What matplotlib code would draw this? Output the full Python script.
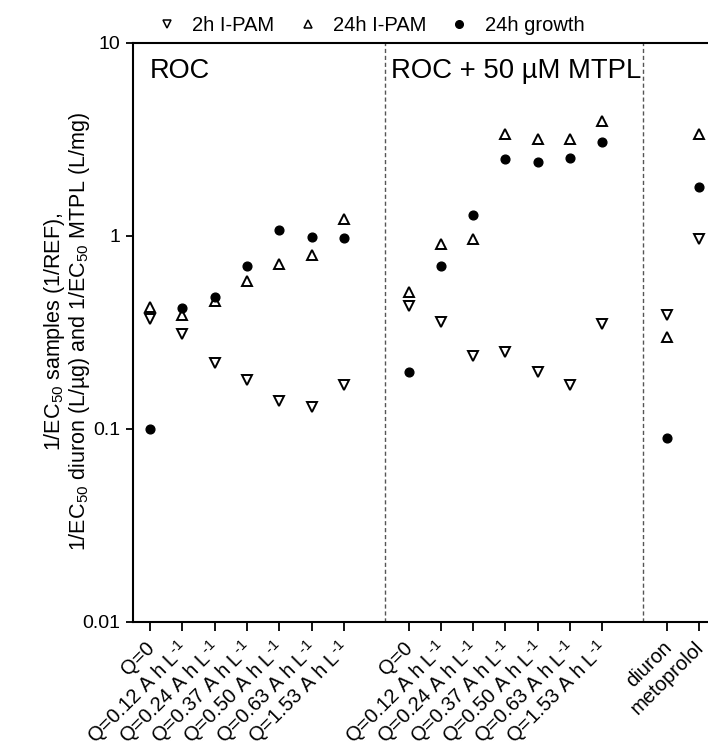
import matplotlib
matplotlib.use("Agg")
import matplotlib.pyplot as plt
from matplotlib.lines import Line2D

plt.rcParams['font.family'] = ['Liberation Sans', 'DejaVu Sans']
plt.rcParams['mathtext.fontset'] = 'custom'
plt.rcParams['mathtext.rm'] = 'Liberation Sans'
plt.rcParams['mathtext.it'] = 'Liberation Sans:italic'

# Sample labels (ROC series, ROC + MTPL series, reference compounds)
charge_labels = ["Q=0", r"Q=0.12 A h L$^{\text{-}1}$", r"Q=0.24 A h L$^{\text{-}1}$",
                 r"Q=0.37 A h L$^{\text{-}1}$", r"Q=0.50 A h L$^{\text{-}1}$",
                 r"Q=0.63 A h L$^{\text{-}1}$", r"Q=1.53 A h L$^{\text{-}1}$"]
reference_labels = ["diuron", "metoprolol"]

# 1/EC50 values, ROC
roc_2h_pam = [0.37, 0.31, 0.22, 0.18, 0.139, 0.13, 0.17]
roc_24h_pam = [0.43, 0.39, 0.46, 0.585, 0.72, 0.80, 1.22]
roc_24h_growth = [0.10, 0.425, 0.485, 0.70, 1.07, 0.99, 0.98]

# 1/EC50 values, ROC + 50 uM MTPL
mtpl_2h_pam = [0.435, 0.36, 0.24, 0.25, 0.198, 0.169, 0.35]
mtpl_24h_pam = [0.51, 0.91, 0.96, 3.37, 3.18, 3.18, 3.94]
mtpl_24h_growth = [0.198, 0.70, 1.29, 2.51, 2.42, 2.54, 3.06]

# 1/EC50 values, diuron and metoprolol
ref_2h_pam = [0.39, 0.97]
ref_24h_pam = [0.30, 3.37]
ref_24h_growth = [0.0895, 1.80]

fig = plt.figure(figsize=(7.08, 7.49), dpi=100)
ax = fig.add_axes([0.1879, 0.1696, 0.8121, 0.7730])

x_roc = list(range(0, 7))
x_mtpl = list(range(8, 15))
x_ref = [16, 17]

xs = x_roc + x_mtpl + x_ref
y_2h = roc_2h_pam + mtpl_2h_pam + ref_2h_pam
y_24h = roc_24h_pam + mtpl_24h_pam + ref_24h_pam
y_gr = roc_24h_growth + mtpl_24h_growth + ref_24h_growth

tri_kw = dict(linestyle='none', markersize=7.5, markerfacecolor='white',
              markeredgecolor='black', markeredgewidth=1.4)
ax.plot(xs, y_2h, marker='v', **tri_kw)
ax.plot(xs, y_24h, marker='^', **tri_kw)
ax.plot(xs, y_gr, marker='o', linestyle='none', markersize=6.3,
        color='black')

ax.set_yscale('log')
ax.set_ylim(0.01, 10)
ax.set_xlim(-0.53, 17.27)
ax.set_yticks([0.01, 0.1, 1, 10])
ax.set_yticklabels(["0.01", "0.1", "1", "10"])
ax.minorticks_off()
ax.tick_params(axis='y', which='major', length=5.4, width=1.3,
               labelsize=14, direction='out', pad=3.5)
ax.tick_params(axis='x', which='major', length=6.5, width=1.3,
               labelsize=14.5, direction='out', pad=9)

ax.set_xticks(xs)
ax.set_xticklabels(charge_labels + charge_labels + reference_labels,
                   rotation=45, ha='right', va='center_baseline',
                   rotation_mode='anchor')

for sp in ['left', 'bottom', 'top']:
    ax.spines[sp].set_linewidth(1.5)
ax.spines['right'].set_visible(False)

for xd in (7.26, 15.27):
    ax.axvline(xd, color='#555555', linestyle=(0, (3, 2)), linewidth=1.0)

ax.text(-0.02, 7.2, "ROC", fontsize=19.5, ha='left', va='center')
ax.text(7.45, 7.2, "ROC + 50 µM MTPL", fontsize=19.8, ha='left', va='center')

fig.text(0.094, 0.5567,
         "1/EC$_{50}$ samples (1/REF),\n"
         "1/EC$_{50}$ diuron (L/µg) and 1/EC$_{50}$ MTPL (L/mg)",
         fontsize=15.5, rotation=90, ha='center', va='center',
         multialignment='center', linespacing=1.0)

handles = [
    Line2D([], [], marker='v', linestyle='none', markersize=5.5,
           markerfacecolor='white', markeredgecolor='black',
           markeredgewidth=1.1),
    Line2D([], [], marker='^', linestyle='none', markersize=5.5,
           markerfacecolor='white', markeredgecolor='black',
           markeredgewidth=1.1),
    Line2D([], [], marker='o', linestyle='none', markersize=5.5,
           color='black'),
]
fig.legend(handles, ["2h I-PAM", "24h I-PAM", "24h growth"],
           loc='center left', bbox_to_anchor=(0.2218, 0.9653), ncol=3,
           frameon=False, fontsize=14.5, handlelength=1.0,
           handletextpad=0.75, columnspacing=1.15,
           borderpad=0, borderaxespad=0)

fig.savefig("out.png", dpi=100)
